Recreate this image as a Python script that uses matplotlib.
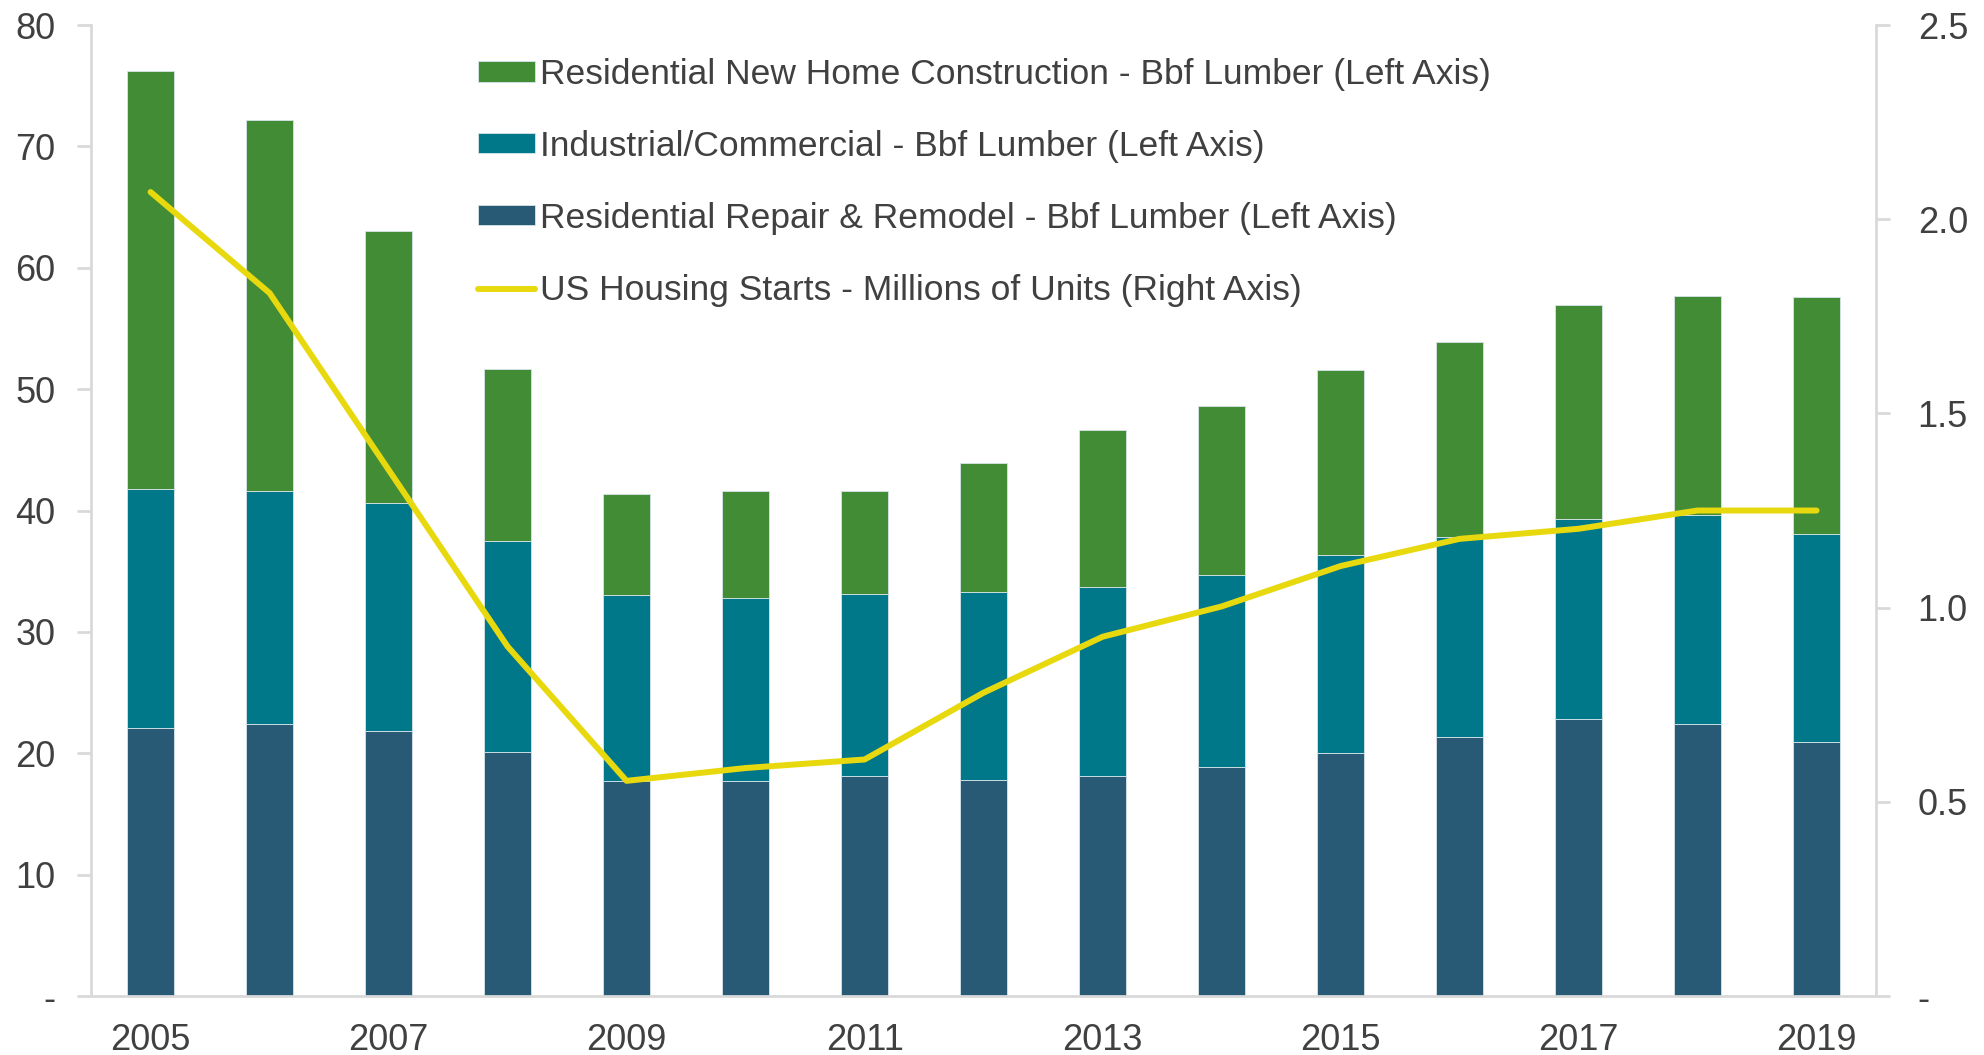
import matplotlib
matplotlib.use("Agg")
import matplotlib.pyplot as plt
from matplotlib.ticker import FuncFormatter

plt.rcParams['font.family'] = ['Liberation Sans', 'DejaVu Sans']

years = list(range(2005, 2020))
# stacked bar segments (Bbf lumber)
repair = [22.1, 22.4, 21.8, 20.1, 17.7, 17.7, 18.1, 17.8, 18.1, 18.9, 20.0, 21.3, 22.8, 22.4, 20.9]
ind_top = [41.8, 41.6, 40.6, 37.5, 33.0, 32.8, 33.1, 33.3, 33.7, 34.7, 36.3, 37.8, 39.3, 39.6, 38.1]
total = [76.2, 72.2, 63.0, 51.7, 41.4, 41.6, 41.6, 43.9, 46.6, 48.6, 51.6, 53.9, 56.9, 57.7, 57.6]
starts = [2.07, 1.81, 1.355, 0.90, 0.554, 0.587, 0.609, 0.781, 0.925, 1.003, 1.107, 1.177, 1.203, 1.25, 1.25]

industrial = [t - r for t, r in zip(ind_top, repair)]
newhome = [t - i for t, i in zip(total, ind_top)]

green = '#428C36'
teal = '#00788A'
navy = '#285A75'
yellow = '#E8D90F'
txt = '#404040'
grid = '#D9D9D9'

fig = plt.figure(figsize=(19.84, 10.55), dpi=100)
ax = fig.add_axes([0.0459, 0.0559, 0.8997, 0.9204])
ax2 = ax.twinx()

x = list(range(len(years)))
w = 0.4
b1 = ax.bar(x, repair, w, color=navy, edgecolor='#d8e4ea', linewidth=0.6, zorder=2)
b2 = ax.bar(x, industrial, w, bottom=repair, color=teal, edgecolor='#d8e4ea', linewidth=0.6, zorder=2)
b3 = ax.bar(x, newhome, w, bottom=ind_top, color=green, edgecolor='#d8e4ea', linewidth=0.6, zorder=2)
ln, = ax2.plot(x, starts, color=yellow, linewidth=4.3, solid_capstyle='round', zorder=3)

ax.set_xlim(-0.5, len(years) - 0.5)
ax.set_ylim(0, 80)
ax2.set_ylim(0, 2.5)
ax.set_yticks(range(0, 81, 10))
ax2.set_yticks([0, 0.5, 1.0, 1.5, 2.0, 2.5])
ax.yaxis.set_major_formatter(FuncFormatter(lambda v, p: '-' if v == 0 else '%d' % v))
ax2.yaxis.set_major_formatter(FuncFormatter(lambda v, p: '-' if v == 0 else '%.1f' % v))
ax.set_xticks(x[::2])
ax.set_xticklabels([str(y) for y in years[::2]])

for a in (ax, ax2):
    for s in a.spines.values():
        s.set_visible(False)
    a.tick_params(axis='y', colors=grid, labelcolor=txt, labelsize=26, length=10, width=2)
ax.tick_params(axis='y', pad=15.5)
ax2.tick_params(axis='y', pad=20)
ax.spines['left'].set_visible(True)
ax.spines['left'].set_color(grid)
ax.spines['left'].set_linewidth(2)
ax.spines['bottom'].set_visible(True)
ax.spines['bottom'].set_color(grid)
ax.spines['bottom'].set_linewidth(2)
ax2.spines['right'].set_visible(True)
ax2.spines['right'].set_color(grid)
ax2.spines['right'].set_linewidth(2)
ax.tick_params(axis='x', length=0, labelsize=26, labelcolor=txt, pad=19.5)

leg = ax2.legend([b3, b2, b1, ln],
                 ['Residential New Home Construction - Bbf Lumber (Left Axis)',
                  'Industrial/Commercial - Bbf Lumber (Left Axis)',
                  'Residential Repair & Remodel - Bbf Lumber (Left Axis)',
                  'US Housing Starts - Millions of Units (Right Axis)'],
                 loc='upper left', bbox_to_anchor=(0.2168, 0.966), frameon=False,
                 fontsize=25.5, labelspacing=1.1, handlelength=1.6, handleheight=0.5,
                 handletextpad=0.15, borderaxespad=0, borderpad=0)
for t in leg.get_texts():
    t.set_color(txt)

fig.savefig('out.png', dpi=100)
